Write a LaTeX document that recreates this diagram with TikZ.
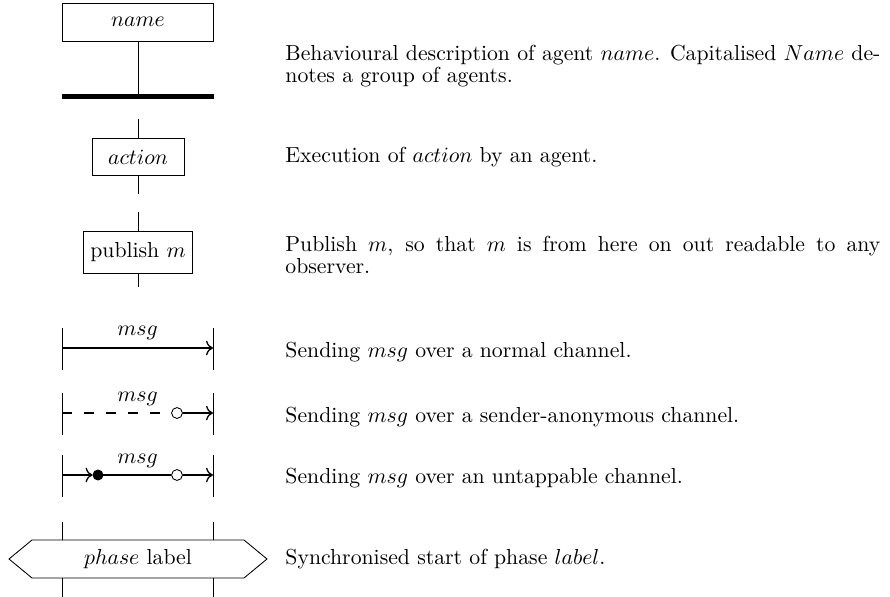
\documentclass[tikz,border=0pt]{standalone}
\usetikzlibrary{positioning,arrows.meta}

\begin{document}
\begin{tikzpicture}[
        x=0.46pt, y=-0.46pt,
        >={To[scale=1.1]},
        agent/.style={draw, minimum width=69.5pt, minimum height=17.5pt},
        actionbox/.style={draw, inner xsep=3.3pt, inner ysep=5.2pt},
        desc/.style={anchor=west, text width=273.7pt, align=justify, inner sep=0pt,
            font=\fontsize{10}{10.1}\selectfont},
        opendot/.style={draw, circle, fill=white, inner sep=0pt, minimum size=5pt},
        fulldot/.style={draw, circle, fill=black, inner sep=0pt, minimum size=4.6pt},
        lifebar/.style={line width=2.3pt},
        msgline/.style={semithick}
    ]
        \useasboundingbox (0,0) rectangle (890,597);

        % agent with its behaviour
        \node[agent] (name) at (138,22) {$name$};
        \coordinate (namebar) at (138,96);
        \coordinate (barL) at (62,96);
        \coordinate (barR) at (214,96);
        \draw (name) -- (namebar);
        \draw[lifebar] (barL) -- (barR);

        % actions
        \node[actionbox, minimum width=42.3pt] (action) at (138,157) {$action$};
        \coordinate (actTop) at (138,119);
        \coordinate (actBot) at (138,194);
        \draw (actTop) -- (action) -- (actBot);

        \node[actionbox] (publish) at (138,252) {publish $m$};
        \coordinate (pubTop) at (138,212);
        \coordinate (pubBot) at (138,287);
        \draw (pubTop) -- (publish) -- (pubBot);

        % channels
        \foreach \y [count=\i] in {348,413,475} {
            \coordinate (s\i) at (62,\y);
            \coordinate (r\i) at (213,\y);
            \draw (62,\y-20) -- (62,\y+22);
            \draw (213,\y-20) -- (213,\y+22);
        }
        \draw[msgline, ->] (s1) -- node[above] {$msg$} (r1);

        \node[opendot] (o2) at (177,413) {};
        \draw[msgline, dash pattern=on 4.6pt off 5.5pt] (s2) -- (o2);
        \draw[msgline, ->] (o2) -- (r2);
        \path (s2) -- node[above] {$msg$} (r2);

        \node[fulldot] (f3) at (98,475) {};
        \node[opendot] (o3) at (177,475) {};
        \draw[msgline, ->] (s3) -- (f3);
        \draw[msgline] (f3) -- (o3);
        \draw[msgline, ->] (o3) -- (r3);
        \path (s3) -- node[above] {$msg$} (r3);

        % phase
        \node (phase) at (138,559) {$phase$ label};
        \draw (9,559) -- (32,540) -- (244,540) -- (267,559) -- (244,578) -- (32,578) -- cycle;
        \foreach \x in {62,213} {
            \draw (\x,522) -- (\x,540);
            \draw (\x,578) -- (\x,597);
        }

        % descriptions
        \node[desc] (dName) at (285,66) {Behavioural description of agent $name$. Capitalised $Name$ denotes a group of agents.};
        \node[desc] (dAction) at (285,157) {Execution of $action$ by an agent.};
        \node[desc] (dPublish) at (285,255) {Publish $m$, so that $m$ is from here on out readable to any \mbox{observer}.};
        \node[desc] (dNormal) at (285,352) {Sending $msg$ over a normal channel.};
        \node[desc] (dAnon) at (285,417) {Sending $msg$ over a sender-anonymous channel.};
        \node[desc] (dUntap) at (285,478) {Sending $msg$ over an untappable channel.};
        \node[desc] (dPhase) at (285,559) {Synchronised start of phase $label$.};
    \end{tikzpicture}
\end{document}
